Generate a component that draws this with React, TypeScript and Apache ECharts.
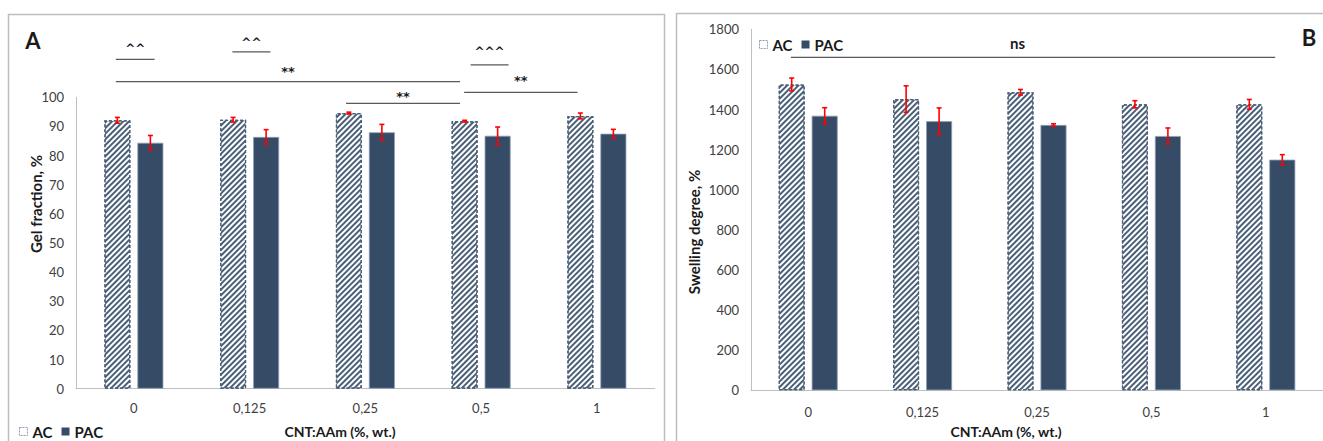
import React, { useEffect, useRef } from 'react';
import * as echarts from 'echarts';

const categories = ['0', '0,125', '0,25', '0,5', '1'];

const gelAC = [92.1, 92.3, 94.6, 91.8, 93.6];
const gelACErr = [1.0, 0.8, 0.3, 0.3, 1.0];
const gelPAC = [84.4, 86.4, 88.0, 86.8, 87.5];
const gelPACErr = [2.5, 2.5, 2.7, 3.0, 1.5];

const swellAC = [1525, 1452, 1486, 1426, 1426];
const swellACErr = [32, 66, 14, 18, 24];
const swellPAC = [1369, 1342, 1323, 1268, 1150];
const swellPACErr = [40, 66, 6, 40, 25];

const gelAxis = { min: 0, max: 100, interval: 10 };
const swellAxis = { min: 0, max: 1800, interval: 200 };

// significance annotations (x in category units, y in value units)
const gelSigLabels = ['^^', '^^', '**', '**', '^^^', '**'];
const gelSigFrom = [-0.156, 0.851, -0.156, 1.833, 2.909, 2.853];
const gelSigTo = [0.179, 1.18, 2.818, 2.818, 3.237, 3.833];
const gelSigLevel = [113.0, 115.6, 105.4, 97.9, 111.1, 101.7];
const gelSigTextLevel = [116.6, 118.6, 108.8, 100.4, 115.6, 105.9];

const swellSigLabels = ['ns'];
const swellSigFrom = [-0.152];
const swellSigTo = [4.082];
const swellSigLevel = [1660];
const swellSigTextLevel = [1730];
const swellSigTextX = [1.83];

const FONT = 'Lato, "Open Sans", sans-serif';
const SYM_FONT = '"DejaVu Sans", sans-serif';
const PAC_COLOR = '#364c66';
const HATCH_COLOR = '#4a5f78';
const BAR_W = 26;
const GAP_PX = 7;
const OFFSET = (BAR_W + GAP_PX) / 2;

function errSeries(values: number[], errs: number[], axisIdx: number, side: number) {
  return {
    type: 'custom',
    xAxisIndex: axisIdx,
    yAxisIndex: axisIdx,
    silent: true,
    z: 10,
    encode: { x: 0, y: 1 },
    data: values.map((v, i) => [i, v, errs[i]]),
    renderItem: (params: any, api: any) => {
      const i = api.value(0);
      const v = api.value(1);
      const e = api.value(2);
      const top = api.coord([i, v + e]);
      const bot = api.coord([i, v - e]);
      const x = top[0] + side * OFFSET;
      const cap = 2.5;
      const st = { stroke: '#ff0000', lineWidth: 1.6 };
      return {
        type: 'group',
        children: [
          { type: 'line', shape: { x1: x, y1: top[1], x2: x, y2: bot[1] }, style: st },
          { type: 'line', shape: { x1: x - cap, y1: top[1], x2: x + cap, y2: top[1] }, style: st },
          { type: 'line', shape: { x1: x - cap, y1: bot[1], x2: x + cap, y2: bot[1] }, style: st },
        ],
      };
    },
  };
}

const acItemStyle = {
  color: '#ffffff',
  borderColor: HATCH_COLOR,
  borderWidth: 1.2,
  borderType: [3, 2],
  decal: {
    symbol: 'rect',
    symbolSize: 1,
    color: HATCH_COLOR,
    dashArrayX: [1, 0],
    dashArrayY: [2, 2],
    rotation: -Math.PI / 4,
  },
};

const pacItemStyle = {
  color: PAC_COLOR,
  borderColor: '#8fa0b4',
  borderWidth: 0.8,
};

function barSeries(name: string, values: number[], axisIdx: number, style: any) {
  return {
    type: 'bar',
    name,
    xAxisIndex: axisIdx,
    yAxisIndex: axisIdx,
    barWidth: BAR_W,
    barGap: (GAP_PX / BAR_W) * 100 + '%',
    itemStyle: style,
    data: values,
  };
}

function catAxis(gridIndex: number, margin: number) {
  return {
    type: 'category',
    gridIndex,
    data: categories,
    axisLine: { onZero: false, lineStyle: { color: '#bfbfbf', width: 1 } },
    axisTick: { show: false },
    axisLabel: { color: '#404040', fontSize: 13, fontFamily: FONT, margin },
  };
}

function valAxis(gridIndex: number, cfg: any) {
  return {
    type: 'value',
    gridIndex,
    min: cfg.min,
    max: cfg.max,
    interval: cfg.interval,
    splitLine: { show: false },
    axisLine: { show: true, onZero: false, lineStyle: { color: '#bfbfbf', width: 1 } },
    axisTick: { show: false },
    axisLabel: {
      color: '#404040',
      fontSize: 13,
      fontFamily: FONT,
      margin: 12,
      formatter: (v: number) => String(v),
    },
  };
}

const legendText = { fontSize: 15, fontWeight: 'bold', fontFamily: FONT, color: '#1a1a1a' };
const legendData = [
  {
    name: 'AC',
    itemStyle: { color: '#ffffff', borderColor: '#8d9db0', borderWidth: 1, borderType: [2, 1], decal: 'none' },
  },
  { name: 'PAC', itemStyle: { color: PAC_COLOR, borderWidth: 0, decal: 'none' } },
];

export default function App() {
  const ref = useRef<HTMLDivElement>(null);

  useEffect(() => {
    document.body.style.margin = '0';
    if (!ref.current) return;
    const chart = echarts.init(ref.current, null, { renderer: 'svg' });
    const option: any = {
      animation: false,
      backgroundColor: '#ffffff',
      grid: [
        { left: 76, top: 97.3, width: 578.75, height: 291.4 },
        { left: 751, top: 29.3, width: 574, height: 361 },
      ],
      xAxis: [
        catAxis(0, 13),
        catAxis(1, 15),
        { type: 'value', gridIndex: 0, min: -0.5, max: 4.5, show: false },
        { type: 'value', gridIndex: 1, min: -0.5, max: 4.5, show: false },
      ],
      yAxis: [valAxis(0, gelAxis), valAxis(1, swellAxis)],
      legend: [
        {
          data: legendData,
          left: 14,
          top: 419,
          icon: 'rect',
          itemWidth: 8,
          itemHeight: 8,
          itemGap: 9,
          textStyle: legendText,
          selectedMode: false,
        },
        {
          data: legendData,
          left: 754,
          top: 32,
          icon: 'rect',
          itemWidth: 8,
          itemHeight: 8,
          itemGap: 9,
          textStyle: legendText,
          selectedMode: false,
        },
      ],
      series: [
        barSeries('AC', gelAC, 0, acItemStyle),
        barSeries('PAC', gelPAC, 0, pacItemStyle),
        barSeries('AC', swellAC, 1, acItemStyle),
        barSeries('PAC', swellPAC, 1, pacItemStyle),
        errSeries(gelAC, gelACErr, 0, -1),
        errSeries(gelPAC, gelPACErr, 0, 1),
        errSeries(swellAC, swellACErr, 1, -1),
        errSeries(swellPAC, swellPACErr, 1, 1),
      ],
    };
    chart.setOption(option);

    const px = (axis: number, x: number) => chart.convertToPixel({ xAxisIndex: axis } as any, x) as number;
    const py = (axis: number, y: number) => chart.convertToPixel({ yAxisIndex: axis } as any, y) as number;

    const txt = (x: number, y: number, text: string, size: number, extra: any = {}, family: string = FONT) => ({
      type: 'text',
      x,
      y,
      ...extra,
      style: {
        text,
        fontSize: size,
        fontWeight: 'bold',
        fontFamily: family,
        fill: '#1a1a1a',
        textAlign: 'center',
        textVerticalAlign: 'middle',
        align: 'center',
        verticalAlign: 'middle',
      },
    });

    const graphics: any[] = [
      { type: 'rect', shape: { x: 8.5, y: 14.5, width: 656, height: 450 }, style: { fill: 'none', stroke: '#bdbdbd', lineWidth: 1.5 } },
      { type: 'rect', shape: { x: 676.5, y: 13.5, width: 660, height: 450 }, style: { fill: 'none', stroke: '#bdbdbd', lineWidth: 1.5 } },
      txt(33, 40, 'A', 22),
      txt(1309, 37, 'B', 22),
      txt(340, 431, 'CNT:AAm (%, wt.)', 14),
      txt(1006, 431, 'CNT:AAm (%, wt.)', 14),
      txt(36, 204, 'Gel fraction, %', 15, { rotation: Math.PI / 2 }),
      txt(694, 232, 'Swelling degree, %', 15, { rotation: Math.PI / 2 }),
    ];

    const addSig = (axis: number, labels: string[], from: number[], to: number[], lvl: number[], tlvl: number[], tx?: number[]) => {
      labels.forEach((lab, i) => {
        const x1 = px(axis + 2, from[i]);
        const x2 = px(axis + 2, to[i]);
        const y = py(axis, lvl[i]);
        graphics.push({ type: 'line', shape: { x1, y1: y, x2, y2: y }, style: { stroke: '#595959', lineWidth: 1.2 } });
        const cx = tx ? px(axis + 2, tx[i]) : (x1 + x2) / 2;
        if (lab === 'ns') {
          graphics.push(txt(cx, py(axis, tlvl[i]), lab, 15));
        } else {
          graphics.push(txt(cx, py(axis, tlvl[i]), lab, lab === '**' ? 13 : 12, {}, SYM_FONT));
        }
      });
    };
    addSig(0, gelSigLabels, gelSigFrom, gelSigTo, gelSigLevel, gelSigTextLevel);
    addSig(1, swellSigLabels, swellSigFrom, swellSigTo, swellSigLevel, swellSigTextLevel, swellSigTextX);

    chart.setOption({ graphic: { elements: graphics } });

    return () => chart.dispose();
  }, []);

  return <div ref={ref} style={{ width: 1323, height: 441 }} />;
}
